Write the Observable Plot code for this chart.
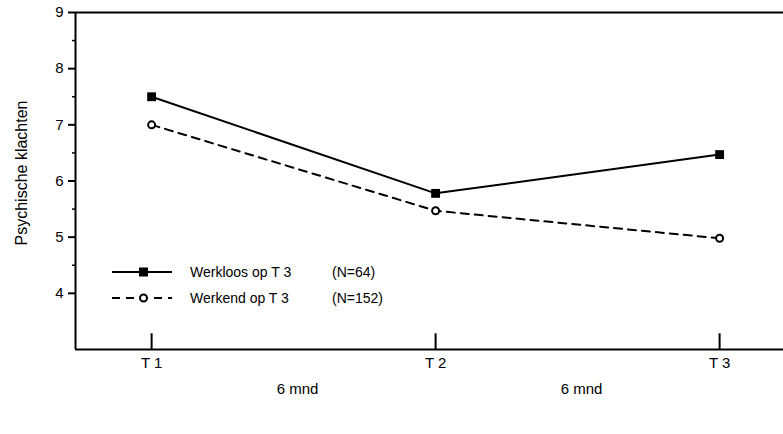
<!DOCTYPE html>
<html>
<head>
<meta charset="utf-8">
<script src="https://cdn.jsdelivr.net/npm/d3@7"></script>
<script src="https://cdn.jsdelivr.net/npm/@observablehq/plot@0.6"></script>
<style>
  body { margin: 0; background: #fff; }
  #wrap { position: relative; width: 783px; height: 434px; font-family: "Liberation Sans", Arial, sans-serif; }
  #legend { position: absolute; left: 0; top: 0; }
</style>
</head>
<body>
<div id="wrap"></div>
<script>
// ---- data ----
const timeLabels = ["T 1", "T 2", "T 3"];
const timeIndex = [1, 2, 3];
const werkloos = [7.5, 5.78, 6.47];   // Werkloos op T 3 (N=64)
const werkend = [7.0, 5.47, 4.98];    // Werkend op T 3 (N=152)
const seriesNames = ["Werkloos op T 3", "Werkend op T 3"];
const seriesN = ["(N=64)", "(N=152)"];
const yTicks = [4, 5, 6, 7, 8, 9];
const yMinorTicks = [4.5, 5.5, 6.5, 7.5, 8.5];
const intervalLabels = ["6 mnd", "6 mnd"];
const intervalPos = [1.5, 2.5];
const yLabel = "Psychische klachten";

const xDomain = [0.732, 3.225];
const yDomain = [3, 9];

const rowsA = timeIndex.map((t, i) => ({t, v: werkloos[i]}));
const rowsB = timeIndex.map((t, i) => ({t, v: werkend[i]}));
const intervals = intervalPos.map((p, i) => ({p, label: intervalLabels[i]}));
const xTickRows = timeIndex.map((t, i) => ({t, label: timeLabels[i]}));

const font = "'Liberation Sans', Arial, Helvetica, sans-serif";

const chart = Plot.plot({
  width: 783,
  height: 434,
  marginLeft: 75,
  marginRight: 0,
  marginTop: 12,
  marginBottom: 85,
  style: {fontFamily: font, color: "#000", background: "#fff"},
  x: {domain: xDomain, axis: null},
  y: {domain: yDomain, axis: null},
  marks: [
    Plot.ruleY([yDomain[0], yDomain[1]], {stroke: "#000", strokeWidth: 2}),
    Plot.ruleX([xDomain[0]], {stroke: "#000", strokeWidth: 2}),
    Plot.axisY({ticks: yTicks, tickSize: 7, label: null, strokeWidth: 2, tickFormat: () => ""}),
    Plot.axisY({ticks: yMinorTicks, tickSize: 3, label: null, strokeWidth: 1.5, tickFormat: () => ""}),
    Plot.text(yTicks, {y: d => d, text: d => String(d), frameAnchor: "left", textAnchor: "end", dx: -12, fontSize: 15, fill: "#000"}),
    Plot.text(xTickRows, {x: "t", text: "label", frameAnchor: "bottom", dy: 18, fontSize: 15, fill: "#000"}),
    Plot.ruleX(timeIndex, {x: d => d, y1: yDomain[0], y2: yDomain[0] + 0.28, stroke: "#000", strokeWidth: 2}),
    Plot.line(rowsA, {x: "t", y: "v", stroke: "#000", strokeWidth: 2}),
    Plot.line(rowsB, {x: "t", y: "v", stroke: "#000", strokeWidth: 2, strokeDasharray: "8,6"}),
    Plot.dot(rowsA, {x: "t", y: "v", symbol: "square", r: 5, fill: "#000", stroke: "none"}),
    Plot.dot(rowsB, {x: "t", y: "v", symbol: "circle", r: 3.5, fill: "#fff", stroke: "#000", strokeWidth: 2}),
    Plot.text(intervals, {x: "p", text: "label", frameAnchor: "bottom", dy: 44, dx: 4, fontSize: 15, fill: "#000"}),
    Plot.text([yLabel], {text: d => d, frameAnchor: "left", textAnchor: "middle", dx: -54, dy: -8, rotate: -90, fontSize: 16, fill: "#000"})
  ]
});

const wrap = document.getElementById("wrap");
wrap.appendChild(chart);

// ---- legend (HTML overlay) ----
const ns = "http://www.w3.org/2000/svg";
const leg = document.createElementNS(ns, "svg");
leg.setAttribute("id", "legend");
leg.setAttribute("width", 783);
leg.setAttribute("height", 434);
const rowsY = [272, 298];
seriesNames.forEach((name, i) => {
  const y = rowsY[i];
  const line = document.createElementNS(ns, "line");
  line.setAttribute("x1", 112); line.setAttribute("x2", 172);
  line.setAttribute("y1", y); line.setAttribute("y2", y);
  line.setAttribute("stroke", "#000"); line.setAttribute("stroke-width", 2);
  if (i === 1) line.setAttribute("stroke-dasharray", "8,6");
  leg.appendChild(line);
  if (i === 0) {
    const r = document.createElementNS(ns, "rect");
    r.setAttribute("x", 139); r.setAttribute("y", y - 4.5);
    r.setAttribute("width", 9); r.setAttribute("height", 9);
    r.setAttribute("fill", "#000");
    leg.appendChild(r);
  } else {
    const c = document.createElementNS(ns, "circle");
    c.setAttribute("cx", 143.5); c.setAttribute("cy", y);
    c.setAttribute("r", 3.5); c.setAttribute("fill", "#fff");
    c.setAttribute("stroke", "#000"); c.setAttribute("stroke-width", 2);
    leg.appendChild(c);
  }
  const t = document.createElementNS(ns, "text");
  t.setAttribute("x", 190); t.setAttribute("y", y);
  t.setAttribute("dy", "0.35em");
  t.setAttribute("font-size", 14); t.setAttribute("font-family", font);
  t.textContent = name;
  leg.appendChild(t);
  const n = document.createElementNS(ns, "text");
  n.setAttribute("x", 332); n.setAttribute("y", y);
  n.setAttribute("dy", "0.35em");
  n.setAttribute("font-size", 14); n.setAttribute("font-family", font);
  n.textContent = seriesN[i];
  leg.appendChild(n);
});
wrap.appendChild(leg);
</script>
</body>
</html>
